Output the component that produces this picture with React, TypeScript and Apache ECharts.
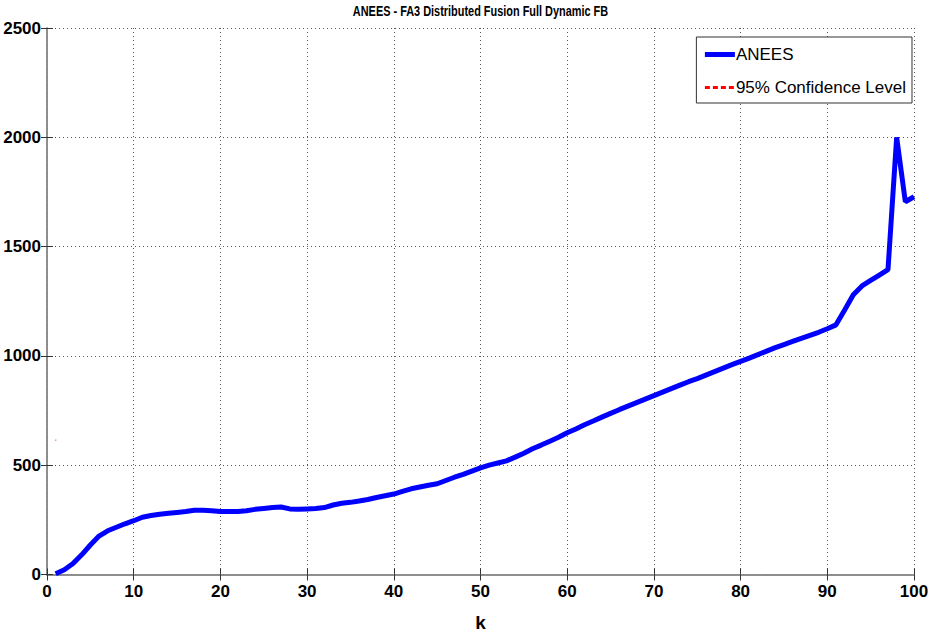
import React, { useEffect, useRef } from "react";
import * as echarts from "echarts";

const kValues: number[] = Array.from({ length: 100 }, (_, i) => i + 1);
const aneesValues: number[] = [
  3, 22, 50, 90, 135, 176, 200, 216, 232, 246,
  262, 270, 276, 280, 284, 288, 294, 294, 292, 288,
  288, 288, 292, 298, 302, 306, 309, 300, 298, 300,
  302, 306, 318, 326, 330, 336, 343, 352, 360, 368,
  380, 392, 400, 408, 415, 430, 445, 458, 473, 488,
  500, 510, 520, 537, 555, 575, 592, 610, 628, 648,
  666, 685, 702, 720, 737, 754, 770, 786, 802, 818,
  834, 850, 866, 882, 896, 912, 928, 944, 960, 975,
  990, 1006, 1022, 1038, 1052, 1066, 1080, 1094, 1108, 1124,
  1142, 1210, 1280, 1320, 1345, 1370, 1395, 2000, 1705, 1728,
];
const confidenceK: number[] = [1];
const confidenceValues: number[] = [615];
const xTicks = { min: 0, max: 100, interval: 10 };
const yTicks = { min: 0, max: 2500, interval: 500 };
const titleText = "ANEES - FA3 Distributed Fusion Full Dynamic FB";

const FONT = "'Liberation Sans', Arial, sans-serif";

export default function App() {
  const ref = useRef<HTMLDivElement>(null);
  useEffect(() => {
    if (!ref.current) return;
    const chart = echarts.init(ref.current, null, { renderer: "svg" });
    const grid = { left: 47, right: 18, top: 28, bottom: 57.5, outerBoundsMode: "none" };
    const split = { show: true, lineStyle: { color: "#555", type: [1, 3] as any, width: 1 } };
    const axisLine = { show: true, lineStyle: { color: "#888", width: 1.5 } };
    const tick = { show: true, inside: true, length: 6, lineStyle: { color: "#333", width: 1 } };
    const label = {
      color: "#000",
      fontFamily: FONT,
      fontSize: 17,
      fontWeight: "bold" as any,
      formatter: (v: number) => String(v),
    };
    chart.setOption({
      animation: false,
      backgroundColor: "#fff",
      graphic: [
        {
          type: "text",
          x: 480.5,
          y: 5,
          scaleX: 0.78,
          style: {
            text: titleText,
            align: "center",
            verticalAlign: "top",
            fontFamily: FONT,
            fontSize: 14,
            fontWeight: "bold",
            fill: "#000",
          },
        },
      ],
      grid,
      legend: {
        orient: "vertical",
        right: 20,
        top: 37,
        backgroundColor: "#fff",
        borderColor: "#333",
        borderWidth: 1,
        padding: [9, 6, 7, 6],
        itemGap: 16,
        itemWidth: 30,
        itemHeight: 12,
        textStyle: { fontFamily: FONT, fontSize: 17, color: "#000", padding: [0, 0, 0, -4] },
        data: [
          {
            name: "ANEES",
            itemStyle: { opacity: 0 },
            lineStyle: { color: "#0000ff", width: 5 },
          },
          {
            name: "95% Confidence Level",
            itemStyle: { opacity: 0 },
            lineStyle: { color: "#ff0000", width: 3, type: [5, 3] as any },
          },
        ],
      },
      xAxis: [
        {
          type: "value",
          ...xTicks,
          name: "k",
          nameLocation: "middle",
          nameGap: 38,
          nameTextStyle: { color: "#000", fontFamily: FONT, fontSize: 19, fontWeight: "bold" },
          axisLine,
          axisTick: tick,
          axisLabel: { ...label, margin: 8 },
          splitLine: split,
        },
        {
          type: "value",
          ...xTicks,
          position: "top",
          axisLine,
          axisTick: tick,
          axisLabel: { show: false },
          splitLine: { show: false },
        },
      ],
      yAxis: [
        {
          type: "value",
          ...yTicks,
          axisLine,
          axisTick: tick,
          axisLabel: { ...label, margin: 6 },
          splitLine: split,
        },
        {
          type: "value",
          ...yTicks,
          position: "right",
          axisLine,
          axisTick: tick,
          axisLabel: { show: false },
          splitLine: { show: false },
        },
      ],
      series: [
        {
          name: "ANEES",
          type: "line",
          data: kValues.map((k, i) => [k, aneesValues[i]]),
          showSymbol: false,
          symbol: "none",
          color: "#0000ff",
          lineStyle: { color: "#0000ff", width: 5 },
        },
        {
          name: "95% Confidence Level",
          type: "line",
          data: confidenceK.map((k, i) => [k, confidenceValues[i]]),
          symbol: "circle",
          symbolSize: 1.5,
          color: "#ff0000",
          itemStyle: { color: "#ff8080" },
          lineStyle: { color: "#ff0000", width: 3, type: [5, 3] as any },
        },
      ],
    });
    return () => chart.dispose();
  }, []);
  return (
    <div
      ref={ref}
      style={{ position: "fixed", left: 0, top: 0, width: 932, height: 632 }}
    />
  );
}
